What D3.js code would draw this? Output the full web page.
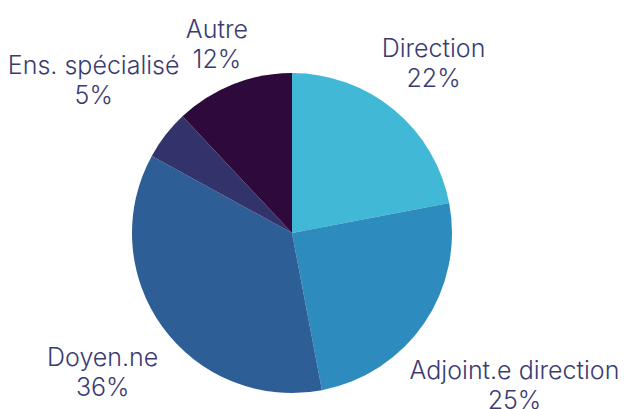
<!DOCTYPE html>
<html>
<head>
<meta charset="utf-8">
<script src="https://cdn.jsdelivr.net/npm/d3@7"></script>
<style>
  body { margin: 0; background: #fff; }
  svg text { font-family: Inter, "Open Sans", sans-serif; font-weight: 300; }
</style>
</head>
<body>
<svg id="chart" width="625" height="409"></svg>
<script>
// slices, clockwise from 12 o'clock
var categories = ["Direction", "Adjoint.e direction", "Doyen.ne", "Ens. spécialisé", "Autre"];
var percents = [22, 25, 36, 5, 12];
var colours = ["#41b8d6", "#2d8bbd", "#2e5e96", "#33336b", "#2d0a3b"];

// how far out each label sits (px from centre)
var labelRadius = {"Direction": 222, "Adjoint.e direction": 269, "Doyen.ne": 234, "Ens. spécialisé": 251, "Autre": 204};

var cx = 292, cy = 233, radius = 160;

var svg = d3.select("#chart");
var g = svg.append("g").attr("transform", "translate(" + cx + "," + cy + ")");

var pie = d3.pie().sort(null).value(function(d){ return d.value; });
var data = categories.map(function(c, i){ return {name: c, value: percents[i], colour: colours[i]}; });
var arcs = pie(data);

var arc = d3.arc().innerRadius(0).outerRadius(radius);

g.selectAll("path.slice")
    .data(arcs)
    .enter()
    .append("path")
        .attr("class", "slice")
        .attr("d", arc)
        .attr("fill", function(d){ return d.data.colour; });

var labels = g.selectAll("text.lbl")
    .data(arcs)
    .enter()
    .append("text")
        .attr("class", "lbl")
        .attr("text-anchor", "middle")
        .attr("fill", "#3b3b72")
        .attr("font-size", 25)
        .attr("transform", function(d){
            var r = labelRadius[d.data.name];
            var c = d3.arc().innerRadius(r).outerRadius(r).centroid(d);
            return "translate(" + c[0] + "," + c[1] + ")";
        });

labels.append("tspan")
    .attr("x", 0)
    .attr("y", -5)
    .text(function(d){ return d.data.name; });

labels.append("tspan")
    .attr("x", 0)
    .attr("y", 25)
    .text(function(d){ return d.data.value + "%"; });
</script>
</body>
</html>
